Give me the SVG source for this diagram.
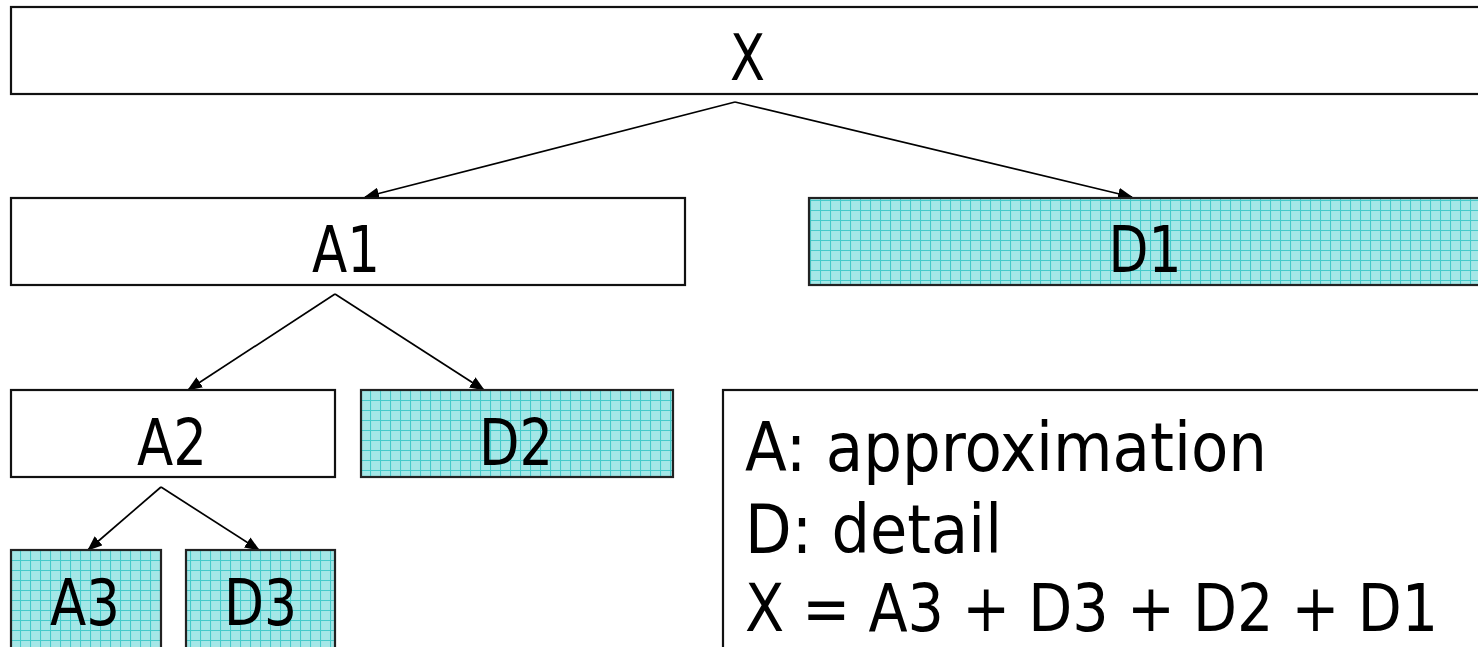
<svg xmlns="http://www.w3.org/2000/svg" width="1478" height="647" viewBox="0 0 1478 647">
<style>
.box{fill:#fff;stroke:#111;stroke-width:2.2}
.det{fill:url(#grid);stroke:#222;stroke-width:2.2}
.lbl{font-family:"DejaVu Sans",Verdana,sans-serif;font-size:64px;fill:#000;text-anchor:middle}
.leg{font-family:"DejaVu Sans",Verdana,sans-serif;font-size:67px;fill:#000}
.con line{stroke:#000;stroke-width:1.7;fill:none}
</style>
<defs>
<pattern id="grid" width="10" height="10" patternUnits="userSpaceOnUse">
<rect width="10" height="10" fill="#a4e7e7"/>
<path d="M0 0.5H10M0.5 0V10" stroke="#45caca" stroke-width="1.1"/>
</pattern>
<marker id="ah" markerUnits="userSpaceOnUse" markerWidth="16" markerHeight="12" refX="14" refY="6" orient="auto">
<path d="M0,0 L15,6 L0,12 z" fill="#000"/>
</marker>
</defs>
<g class="con">
<line x1="735" y1="102" x2="365" y2="197" marker-end="url(#ah)"/>
<line x1="735" y1="102" x2="1132" y2="197" marker-end="url(#ah)"/>
<line x1="335" y1="294" x2="188" y2="390" marker-end="url(#ah)"/>
<line x1="335" y1="294" x2="484" y2="390" marker-end="url(#ah)"/>
<line x1="161" y1="487" x2="88" y2="550" marker-end="url(#ah)"/>
<line x1="161" y1="487" x2="259" y2="550" marker-end="url(#ah)"/>
</g>
<g id="X"><rect class="box" x="11" y="7" width="1480" height="87"/><text class="lbl" x="747.5" y="80" textLength="35" lengthAdjust="spacingAndGlyphs">X</text></g>
<g id="A1"><rect class="box" x="11" y="198" width="674" height="87"/><text class="lbl" x="346" y="272" textLength="68" lengthAdjust="spacingAndGlyphs">A1</text></g>
<g id="D1"><rect class="det" x="809" y="198" width="680" height="87"/><text class="lbl" x="1145" y="272" textLength="73" lengthAdjust="spacingAndGlyphs">D1</text></g>
<g id="A2"><rect class="box" x="11" y="390" width="324" height="87"/><text class="lbl" x="172" y="465" textLength="70" lengthAdjust="spacingAndGlyphs">A2</text></g>
<g id="D2"><rect class="det" x="361" y="390" width="312" height="87"/><text class="lbl" x="516" y="465" textLength="74" lengthAdjust="spacingAndGlyphs">D2</text></g>
<g id="A3"><rect class="det" x="11" y="550" width="150" height="110"/><text class="lbl" x="85" y="625" textLength="70" lengthAdjust="spacingAndGlyphs">A3</text></g>
<g id="D3"><rect class="det" x="186" y="550" width="149" height="110"/><text class="lbl" x="260.5" y="625" textLength="73" lengthAdjust="spacingAndGlyphs">D3</text></g>
<g id="legend"><rect class="box" x="723" y="390" width="780" height="280"/>
<text class="leg" x="745" y="471" textLength="522" lengthAdjust="spacingAndGlyphs">A: approximation</text>
<text class="leg" x="745" y="553" textLength="257" lengthAdjust="spacingAndGlyphs">D: detail</text>
<text class="leg" transform="translate(745,631) scale(0.88,1)" x="0" y="0" style="font-size:65px">X = A3 + D3 + D2 + D1</text>
</g>
</svg>
